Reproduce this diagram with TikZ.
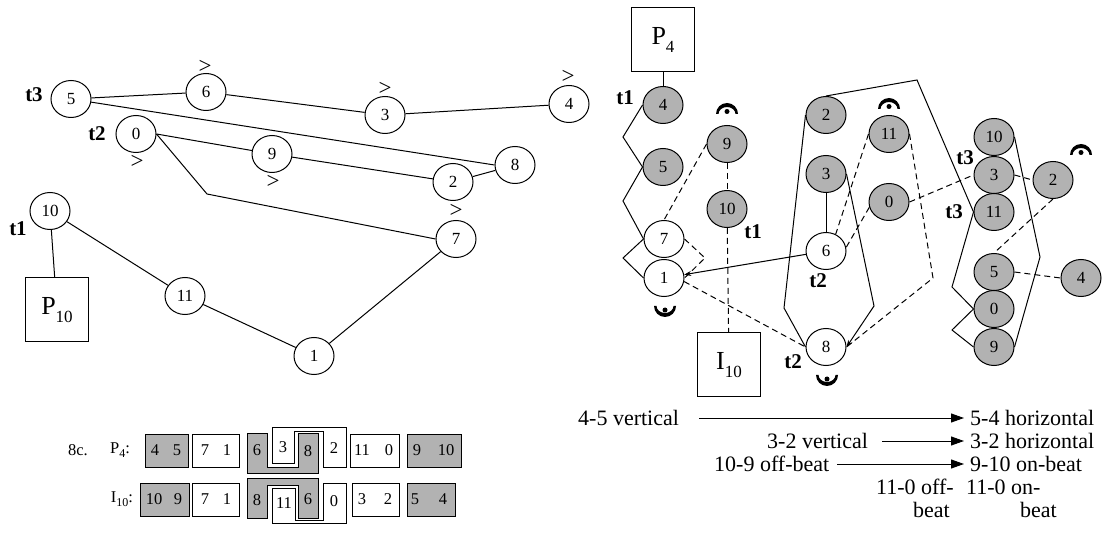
\documentclass[tikz,border=0pt]{standalone}
\usepackage{fontspec}
\setmainfont{Liberation Serif}
\usetikzlibrary{shapes.geometric,arrows.meta}
\begin{document}
\begin{tikzpicture}[x=1pt,y=-1pt,
  every node/.style={font=\fontsize{17}{20}\selectfont, inner sep=0pt},
  nd/.style={ellipse, draw, line width=1pt, minimum width=40pt, minimum height=37pt, fill=white},
  sh/.style={nd, fill=black!30},
  lbl/.style={font=\fontsize{21}{23}\selectfont\bfseries},
  acc/.style={font=\fontsize{23}{25}\selectfont},
  bx/.style={draw, line width=1pt, minimum width=63pt, minimum height=64pt, font=\fontsize{26}{28}\selectfont},
  ln/.style={line width=1pt},
  dsh/.style={line width=1pt, dash pattern=on 6pt off 4pt},
  cell/.style={draw, line width=1pt},
  shcell/.style={draw, line width=1pt, fill=black!30},
  tx/.style={font=\fontsize{16.5}{18}\selectfont},
  big/.style={font=\fontsize{22}{24}\selectfont},
  arr/.style={line width=1pt, -{Triangle[length=13pt,width=9pt]}},
  fermup/.pic={\fill (-11,0) arc[start angle=180,end angle=360,x radius=11,y radius=11] -- (8.5,0) arc[start angle=0,end angle=-180,x radius=8.5,y radius=7] -- cycle; \fill (0,-2.5) circle[radius=2.5];},
  fermdown/.pic={\fill (-11,0) arc[start angle=180,end angle=0,x radius=11,y radius=11] -- (8.5,0) arc[start angle=0,end angle=180,x radius=8.5,y radius=7] -- cycle; \fill (0,4) circle[radius=2.5];}
]
\useasboundingbox (0,0) rectangle (1103,534);

% ---------------- left graph ----------------
\node[nd] (L5) at (71,99) {5};
\node[nd] (L6) at (206,92) {6};
\node[nd] (L3) at (385,115) {3};
\node[nd] (L4) at (569,104) {4};
\node[nd] (L0) at (136,134) {0};
\node[nd] (L9) at (272,154) {9};
\node[nd] (L2) at (453,182) {2};
\node[nd] (L8) at (515,165) {8};
\node[nd] (L7) at (456,239) {7};
\node[nd] (L10) at (50,211) {10};
\node[nd] (L11) at (185,296) {11};
\node[nd] (L1) at (314,356) {1};
\node[bx] (P10) at (57,310) {P\raisebox{-0.3em}{\fontsize{17}{17}\selectfont 10}};
\coordinate (Lb) at (207,194);

\node[lbl] (lt3) at (34,95) {t3};
\node[lbl] (lt2) at (97,134) {t2};
\node[lbl] (lt1) at (18,229) {t1};

\node[acc] (g6) at (205,67) {>};
\node[acc] (g3) at (385,89) {>};
\node[acc] (g4) at (568,77) {>};
\node[acc] (g0) at (137,162) {>};
\node[acc] (g9) at (273,182) {>};
\node[acc] (g7) at (456,211) {>};

\draw[ln] (L5) -- (L6);
\draw[ln] (L6) -- (L3);
\draw[ln] (L3) -- (L4);
\draw[ln] (L5) -- (L8.west);
\draw[ln] (L0.east) -- (L9);
\draw[ln] (L9) -- (L2);
\draw[ln] (L2) -- (L8);
\draw[ln] (L0.east) -- (Lb) -- (L7.west);
\draw[ln] (L10) -- (L11);
\draw[ln] (L11) -- (L1);
\draw[ln] (L1) -- (L7);
\draw[ln] (L10) -- (P10);

% ---------------- right graph ----------------
\node[bx] (P4) at (663,40) {P\raisebox{-0.3em}{\fontsize{17}{17}\selectfont 4}};
\node[sh] (R4) at (663,105) {4};
\node[sh] (R5) at (663,167) {5};
\node[nd] (R7) at (664,239) {7};
\node[nd] (R1) at (664,278) {1};
\node[sh] (R9) at (727,144) {9};
\node[sh] (R10) at (727,209) {10};
\node[bx] (I10) at (729,365) {I\raisebox{-0.3em}{\fontsize{17}{17}\selectfont 10}};
\node[sh] (R2) at (826,115) {2};
\node[sh] (R3) at (826,174) {3};
\node[nd] (R6) at (826,251) {6};
\node[nd] (R8) at (826,347) {8};
\node[sh] (R11) at (889,134) {11};
\node[sh] (R0) at (889,202) {0};
\node[sh] (C10) at (994,137) {10};
\node[sh] (C3) at (994,175) {3};
\node[sh] (C11) at (994,212) {11};
\node[sh] (C5) at (994,272) {5};
\node[sh] (C0) at (994,309) {0};
\node[sh] (C9) at (994,347) {9};
\node[sh] (F2) at (1053,180) {2};
\node[sh] (F4) at (1081,278) {4};

\node[lbl] (rt1a) at (625,98) {t1};
\node[lbl] (rt1b) at (753,232) {t1};
\node[lbl] (rt2a) at (818,281) {t2};
\node[lbl] (rt2b) at (793,362) {t2};
\node[lbl] (rt3a) at (965,158) {t3};
\node[lbl] (rt3b) at (954,212) {t3};

\coordinate (z1) at (623,137);
\coordinate (z2) at (623,201);
\coordinate (z3) at (623,258);
\coordinate (d1) at (705,258);
\coordinate (p1) at (784,308);
\coordinate (p2) at (917,80);
\coordinate (p3) at (952,287);
\coordinate (p4) at (874,306);
\coordinate (p5) at (952,330);
\coordinate (p6) at (1040,257);
\coordinate (d2) at (933,278);

\draw[ln] (P4) -- (R4);
\draw[ln] (R4.west) -- (z1) -- (R5.west) -- (z2) -- (R7.west) -- (z3) -- (R1.west);
\draw[ln] (R3) -- (R6);
\draw[ln, -{Stealth[length=7pt,width=5pt]}] (R6) -- (R1);
\draw[ln] (R2.west) -- (p1) -- (R8.west);
\draw[ln] (R2.north) -- (p2) -- (C11.west) -- (p3) -- (C0.west);
\draw[ln, -{Stealth[length=7pt,width=5pt]}] (R3.east) -- (p4) -- (R8.east);
\draw[ln] (C0.west) -- (p5) -- (C9.west);
\draw[ln] (C9.east) -- (p6) -- (C10.east);

\draw[dsh] (R9.west) -- (R7.north);
\draw[dsh] (R9) -- (R10);
\draw[dsh] (R10) -- (I10);
\draw[dsh] (R7.east) -- (d1) -- (R1.east);
\draw[dsh] (R1.-10) -- (R8.west);
\draw[dsh] (R11.west) -- (R6.60);
\draw[dsh] (R0.195) -- (R6.10);
\draw[dsh] (R11.east) -- (d2) -- (R8.east);
\draw[dsh] (R0.east) -- (C3.west);
\draw[dsh] (C3.east) -- (F2.west);
\draw[dsh] (F2.south) -- (C5.north);
\draw[dsh] (C5.east) -- (F4.west);

\pic at (727,114) {fermup};
\pic at (889,109) {fermup};
\pic at (1081,155) {fermup};
\pic at (665,306) {fermdown};
\pic at (827,375) {fermdown};

% ---------------- table ----------------
\node[tx] (t8c) at (78,450) {8c.};
\node[tx] (tP4) at (120,450) {P\raisebox{-0.25em}{\fontsize{12}{12}\selectfont 4}:};
\node[tx] (tI10) at (122,499) {I\raisebox{-0.25em}{\fontsize{12}{12}\selectfont 10}:};

\draw[shcell] (145,434) rectangle (188,467);
\draw[cell] (192,434) rectangle (239,467);
\draw[shcell] (247,433) -- (267,433) -- (267,467) -- (298,467) -- (298,433) -- (318,433) -- (318,473) -- (247,473) -- cycle;
\draw[cell, fill=white] (272,427) -- (346,427) -- (346,467) -- (323,467) -- (323,431) -- (294,431) -- (294,463) -- (272,463) -- cycle;
\draw[cell] (350,434) rectangle (399,467);
\draw[shcell] (407,434) rectangle (461,467);

\draw[shcell] (140,483) rectangle (189,516);
\draw[cell] (192,483) rectangle (239,516);
\draw[shcell] (247,478) -- (318,478) -- (318,518) -- (298,518) -- (298,485) -- (267,485) -- (267,518) -- (247,518) -- cycle;
\draw[cell, fill=white] (272,488) -- (295,488) -- (295,520) -- (323,520) -- (323,483) -- (346,483) -- (346,523) -- (272,523) -- cycle;
\draw[cell] (352,483) rectangle (399,516);
\draw[shcell] (407,483) rectangle (455,516);

\node[tx] (a4) at (155,450) {4};
\node[tx] (a5) at (177,450) {5};
\node[tx] (a7) at (205,450) {7};
\node[tx] (a1) at (227,450) {1};
\node[tx] (a6) at (257,450) {6};
\node[tx] (a3) at (283,447) {3};
\node[tx] (a8) at (308,451) {8};
\node[tx] (a2) at (334,448) {2};
\node[tx] (a11) at (362,450) {11};
\node[tx] (a0) at (389,450) {0};
\node[tx] (a9) at (417,450) {9};
\node[tx] (a10) at (446,450) {10};

\node[tx] (b10) at (154,499) {10};
\node[tx] (b9) at (178,499) {9};
\node[tx] (b7) at (205,499) {7};
\node[tx] (b1) at (227,499) {1};
\node[tx] (b8) at (257,500) {8};
\node[tx] (b11) at (284,503) {11};
\node[tx] (b6) at (308,499) {6};
\node[tx] (b0) at (334,501) {0};
\node[tx] (b3) at (362,499) {3};
\node[tx] (b2) at (388,499) {2};
\node[tx] (b5) at (415,499) {5};
\node[tx] (b4) at (443,499) {4};

% ---------------- bottom right text ----------------
\node[big, anchor=west] (v45) at (578,418) {4-5 vertical};
\node[big, anchor=west] (h54) at (970,418) {5-4 horizontal};
\node[big, anchor=west] (v32) at (767,441) {3-2 vertical};
\node[big, anchor=west] (h32) at (970,441) {3-2 horizontal};
\node[big, anchor=west] (o109) at (714,464) {10-9 off-beat};
\node[big, anchor=west] (o910) at (970,464) {9-10 on-beat};
\node[big, anchor=west] (o110) at (876,487) {11-0 off-};
\node[big, anchor=east] (o110b) at (950,510) {beat};
\node[big, anchor=west] (n110) at (966,487) {11-0 on-};
\node[big, anchor=east] (n110b) at (1057,510) {beat};

\draw[arr, shorten <=20pt, shorten >=6pt] (v45.east) -- (h54.west);
\draw[arr, shorten <=14pt, shorten >=6pt] (v32.east) -- (h32.west);
\draw[arr, shorten <=8pt, shorten >=6pt] (o109.east) -- (o910.west);
\end{tikzpicture}
\end{document}
